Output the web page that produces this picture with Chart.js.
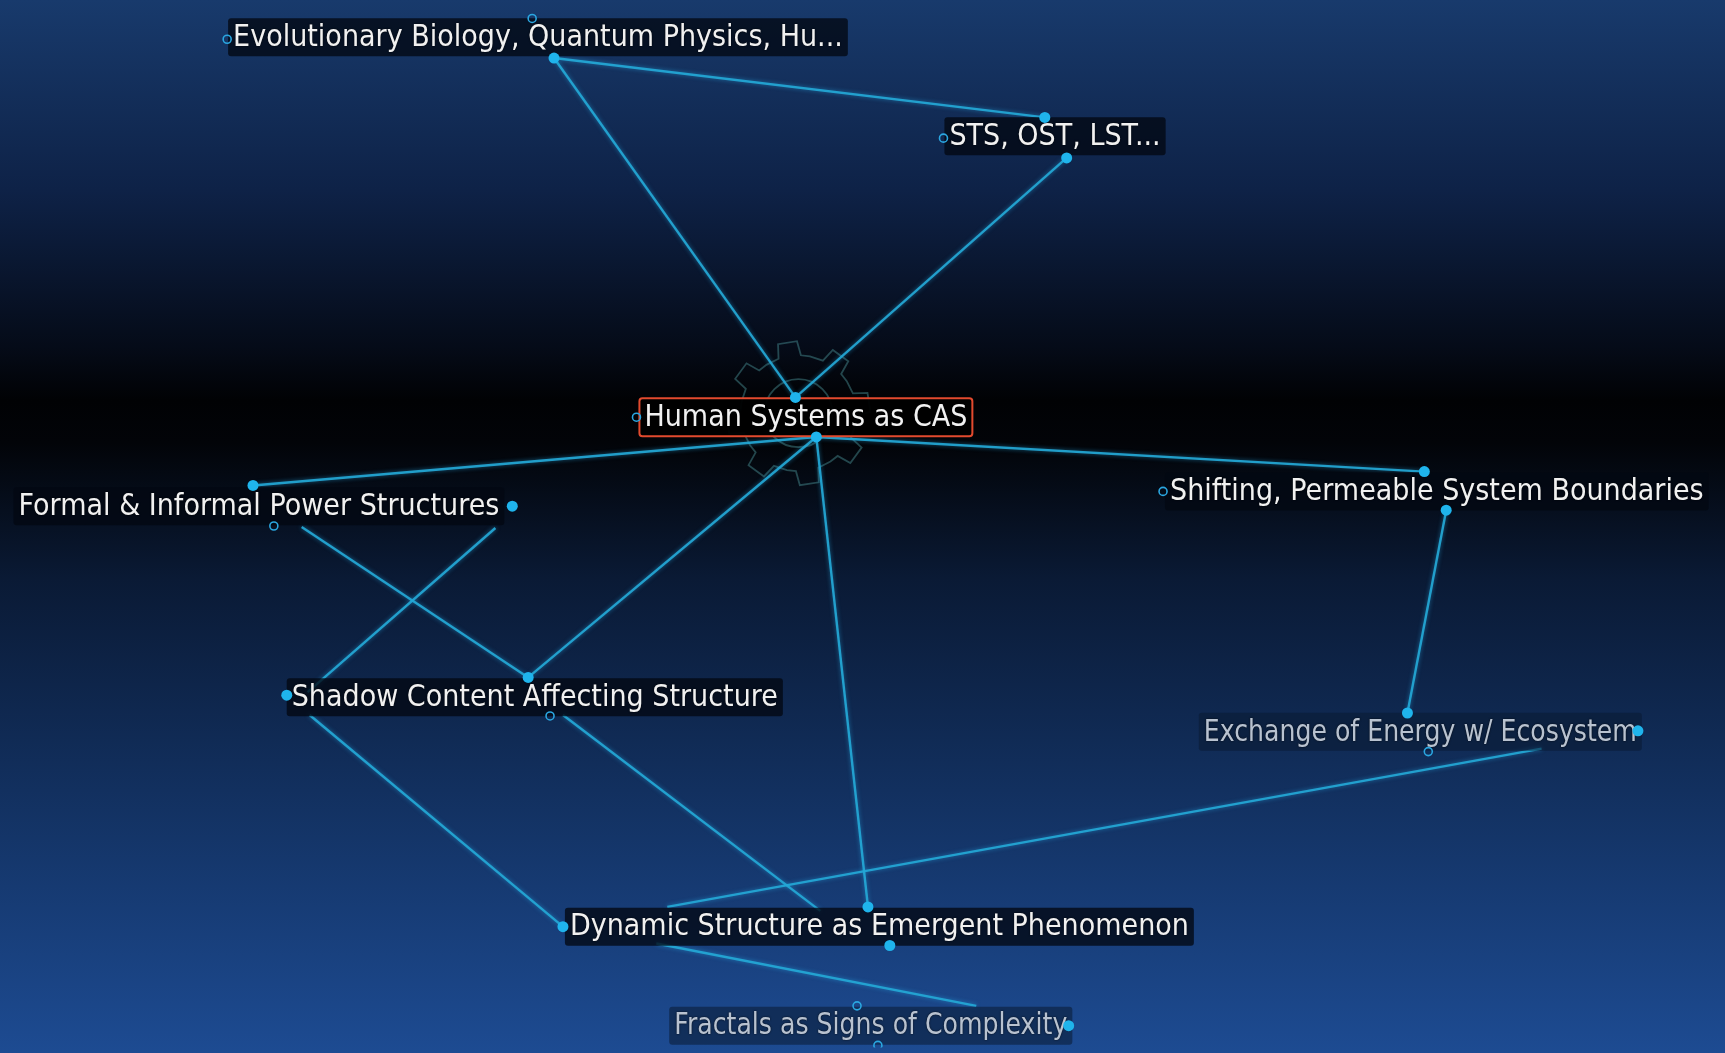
<!DOCTYPE html>
<html>
<head>
<meta charset="utf-8">
<script src="https://cdn.jsdelivr.net/npm/chart.js@4"></script>
<style>
  html, body { margin: 0; padding: 0; background: #000; overflow: hidden; }
  canvas { display: block; }
</style>
</head>
<body>
<canvas id="chartArea" width="1725" height="1053"></canvas>
<script>
// node labels and where their text starts (map units)
var nodeLabels = [
    'Evolutionary Biology, Quantum Physics, Hu...',
    'STS, OST, LST...',
    'Human Systems as CAS',
    'Formal & Informal Power Structures',
    'Shifting, Permeable System Boundaries',
    'Shadow Content Affecting Structure',
    'Exchange of Energy w/ Ecosystem',
    'Dynamic Structure as Emergent Phenomenon',
    'Fractals as Signs of Complexity'
];
var labelX = [229, 950, 643, 13, 1172, 288, 1206, 568, 673];
var labelY = [32, 132, 416, 506, 491, 699, 734, 931, 1031];

// connection handles (filled = in use, hollow = free)
var filledX = [552, 1046, 1068, 795, 816, 249, 510, 1428, 1450, 283, 526, 1411, 1643, 561, 868, 890, 1070];
var filledY = [53, 113, 154, 396, 436, 485, 506, 471, 510, 697, 679, 715, 733, 931, 911, 950, 1031];
var hollowX = [530, 223, 944, 635, 270, 1165, 548, 1432, 857, 878];
var hollowY = [13, 34, 134, 416, 526, 491, 718, 754, 1011, 1051];

// links: [x1, y1, x2, y2]
var links = [
    [552, 53, 1046, 113],
    [552, 53, 795, 396],
    [1068, 154, 795, 396],
    [816, 436, 249, 485],
    [816, 436, 1428, 471],
    [816, 436, 526, 679],
    [816, 436, 868, 911],
    [298, 527, 526, 679],
    [493, 528, 304, 694],
    [306, 717, 561, 931],
    [561, 717, 820, 915],
    [1450, 510, 1411, 715],
    [1546, 751, 666, 911],
    [655, 948, 977, 1011]
];

var centralNode = 'Human Systems as CAS';
var mutedNodes = ['Exchange of Energy w/ Ecosystem', 'Fractals as Signs of Complexity'];
var textSqueeze = 0.9;
var mutedSqueeze = 0.84;

var datasets = [];
datasets.push({
    label: 'filled',
    data: filledX.map((x, i) => ({ x: x, y: filledY[i] })),
    pointRadius: 5.5,
    pointBackgroundColor: '#1fb4ec',
    pointBorderWidth: 0,
    showLine: false,
    isDots: true,
    order: 0
});
datasets.push({
    label: 'hollow',
    data: hollowX.map((x, i) => ({ x: x, y: hollowY[i] })),
    pointRadius: 4,
    pointBackgroundColor: 'rgba(0,0,0,0)',
    pointBorderColor: '#2aa6e0',
    pointBorderWidth: 1.6,
    showLine: false,
    isDots: true,
    order: 1
});
links.forEach(function (l, i) {
    datasets.push({
        label: 'link' + i,
        data: [{ x: l[0], y: l[1] }, { x: l[2], y: l[3] }],
        showLine: true,
        borderColor: 'rgba(36,168,214,0.92)',
        borderWidth: 2.4,
        pointRadius: 0,
        isLink: true,
        order: 10
    });
});

var labelsDrawn = false;

var mapPlugin = {
    id: 'mapPlugin',
    beforeDraw: function (chart) {
        labelsDrawn = false;
        var ctx = chart.ctx;
        var g = ctx.createLinearGradient(0, 0, 0, chart.height);
        g.addColorStop(0, '#183a6c');
        g.addColorStop(0.18, '#0e2247');
        g.addColorStop(0.33, '#050b18');
        g.addColorStop(0.38, '#010204');
        g.addColorStop(0.42, '#020408');
        g.addColorStop(0.55, '#0a1a35');
        g.addColorStop(0.75, '#12305f');
        g.addColorStop(1, '#1d4b92');
        ctx.save();
        ctx.fillStyle = g;
        ctx.fillRect(0, 0, chart.width, chart.height);
        ctx.restore();
    },
    beforeDatasetsDraw: function (chart) {
        // faint gear behind the central node
        var ctx = chart.ctx;
        var i = nodeLabels.indexOf(centralNode);
        var cx = chart.scales.x.getPixelForValue(labelX[i] + 155);
        var cy = chart.scales.y.getPixelForValue(labelY[i] - 4);
        ctx.save();
        ctx.strokeStyle = 'rgba(80,160,165,0.42)';
        ctx.lineWidth = 1.8;
        var teeth = 8, rOut = 72, rIn = 58;
        ctx.beginPath();
        for (var t = 0; t < teeth; t++) {
            var a0 = (t / teeth) * Math.PI * 2 + 0.2;
            var step = Math.PI * 2 / teeth;
            var pts = [
                [rIn, a0], [rIn, a0 + step * 0.3], [rOut, a0 + step * 0.38],
                [rOut, a0 + step * 0.72], [rIn, a0 + step * 0.8]
            ];
            pts.forEach(function (p, k) {
                var px = cx + p[0] * Math.cos(p[1]);
                var py = cy + p[0] * Math.sin(p[1]);
                if (t === 0 && k === 0) ctx.moveTo(px, py); else ctx.lineTo(px, py);
            });
        }
        ctx.closePath();
        ctx.stroke();
        ctx.beginPath();
        ctx.arc(cx, cy, 34, 0, Math.PI * 2);
        ctx.stroke();
        ctx.restore();
    },
    beforeDatasetDraw: function (chart, args) {
        var ds = chart.data.datasets[args.index];
        var ctx = chart.ctx;
        if (ds.isLink) {
            ctx.save();
            ctx.shadowColor = 'rgba(40,170,230,0.6)';
            ctx.shadowBlur = 4;
        }
        if (ds.isDots && !labelsDrawn) {
            labelsDrawn = true;
            drawLabels(chart);
        }
    },
    afterDatasetDraw: function (chart, args) {
        var ds = chart.data.datasets[args.index];
        if (ds.isLink) chart.ctx.restore();
    }
};

function drawLabels(chart) {
    var ctx = chart.ctx;
    ctx.save();
    ctx.font = '30px "DejaVu Sans", sans-serif';
    ctx.textBaseline = 'middle';
    nodeLabels.forEach(function (name, i) {
        var x = chart.scales.x.getPixelForValue(labelX[i]);
        var y = chart.scales.y.getPixelForValue(labelY[i]);
        var muted = mutedNodes.indexOf(name) >= 0;
        var central = name === centralNode;
        var sq = muted ? mutedSqueeze : textSqueeze;
        var w = ctx.measureText(name).width * sq;
        var bx = x - 5, by = y - 19, bw = w + 10, bh = 38;
        ctx.fillStyle = central ? 'rgba(0,0,0,0.95)' : (muted ? 'rgba(10,25,50,0.55)' : 'rgba(3,8,18,0.78)');
        ctx.beginPath();
        ctx.roundRect(bx, by, bw, bh, 3);
        ctx.fill();
        if (central) {
            ctx.strokeStyle = '#e24a2e';
            ctx.lineWidth = 2;
            ctx.stroke();
        }
        ctx.save();
        ctx.translate(x, y + 1);
        ctx.scale(sq, 1);
        ctx.shadowColor = 'rgba(0,0,0,0.8)';
        ctx.shadowBlur = 2;
        ctx.fillStyle = muted ? '#b8c2d0' : '#f1f1f1';
        ctx.fillText(name, 0, 0);
        ctx.restore();
    });
    ctx.restore();
}

var ctx = document.getElementById('chartArea').getContext('2d');
var myChart = new Chart(ctx, {
    type: 'scatter',
    data: { datasets: datasets },
    options: {
        responsive: false,
        animation: false,
        events: [],
        layout: { padding: 0 },
        plugins: { legend: { display: false }, tooltip: { enabled: false } },
        scales: {
            x: { type: 'linear', min: 0, max: 1725, display: false },
            y: { type: 'linear', min: 0, max: 1053, reverse: true, display: false }
        }
    },
    plugins: [mapPlugin]
});
</script>
</body>
</html>
